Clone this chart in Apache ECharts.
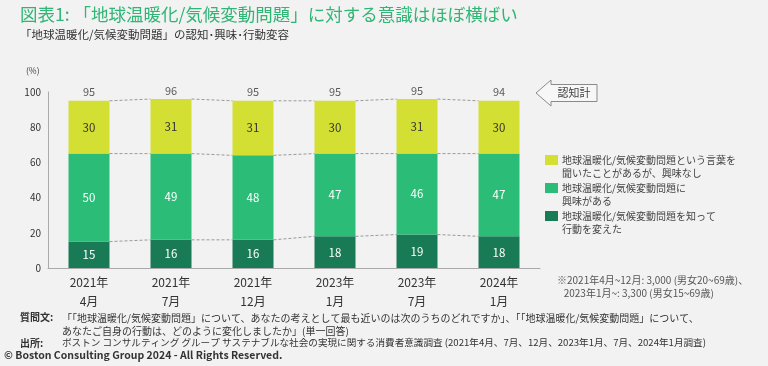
<!DOCTYPE html>
<html><head><meta charset="utf-8">
<script src="https://cdn.jsdelivr.net/npm/echarts@6/dist/echarts.min.js"></script>
<style>html,body{margin:0;padding:0;background:#f2f2f2}#c{width:768px;height:366px}</style>
</head><body><div id="c"></div>
<script>
const categories = ['2021年\n4月','2021年\n7月','2021年\n12月','2023年\n1月','2023年\n7月','2024年\n1月'];
const actedValues = [15,16,16,18,19,18];
const interestedValues = [50,49,48,47,46,47];
const awareValues = [30,31,31,30,31,30];
const totalLabels = [95,96,95,95,95,94];
const yTicks = [0,20,40,60,80,100];
const seriesNames = ['地球温暖化/気候変動問題を知って行動を変えた','地球温暖化/気候変動問題に興味がある','地球温暖化/気候変動問題という言葉を聞いたことがあるが、興味なし'];
const legendLines = [
  ['地球温暖化/気候変動問題という言葉を','聞いたことがあるが、興味なし'],
  ['地球温暖化/気候変動問題に','興味がある'],
  ['地球温暖化/気候変動問題を知って','行動を変えた']
];
const colors = {acted:'#197a56', interested:'#2bbd77', aware:'#d4df33'};
const FONT = '"Noto Sans CJK JP","Noto Sans",sans-serif';

const cum1 = actedValues.slice();
const cum2 = actedValues.map((v,i)=>v+interestedValues[i]);
const cum3 = cum2.map((v,i)=>v+awareValues[i]);
const connData = [];
for (let i=0;i<categories.length-1;i++) connData.push([i,cum1[i],cum1[i+1],cum2[i],cum2[i+1],cum3[i],cum3[i+1]]);

const chart = echarts.init(document.getElementById('c'));
const legendColors = [colors.aware, colors.interested, colors.acted];
const legendTops = [155,183,211];
const legendGraphics = [];
legendLines.forEach((lines,k)=>{
  legendGraphics.push({type:'rect', left:545, top:legendTops[k], shape:{width:13,height:10}, style:{fill:legendColors[k]}});
  legendGraphics.push({type:'text', left:562, top:legendTops[k]-1.5, style:{text:lines.join('\n'), font:'10px '+FONT, fill:'#444', lineHeight:13}});
});

const labelBase = {show:true, fontFamily:FONT, fontSize:11.5};
chart.setOption({
  backgroundColor:'#f2f2f2',
  textStyle:{fontFamily:FONT},
  animation:false,
  grid:{left:48, right:228, top:92, bottom:98},
  xAxis:{type:'category', data:categories,
    axisLine:{lineStyle:{color:'#aaaaaa'}}, axisTick:{show:false},
    axisLabel:{color:'#333', fontSize:12, lineHeight:19, margin:5, fontFamily:FONT}},
  yAxis:{type:'value', min:0, max:100, interval:20,
    axisLine:{show:true, lineStyle:{color:'#aaaaaa'}}, axisTick:{show:false}, splitLine:{show:false},
    axisLabel:{color:'#333', fontSize:10, margin:7, fontFamily:FONT}},
  series:[
    {type:'custom', z:1, silent:true, data:connData, renderItem:function(params, api){
      const hw = api.size([1,0])[0]*0.25;
      const i = api.value(0);
      const children = [];
      for (let k=0;k<3;k++){
        const a = api.coord([i, api.value(1+2*k)]);
        const b = api.coord([i+1, api.value(2+2*k)]);
        children.push({type:'line', shape:{x1:a[0]+hw, y1:a[1], x2:b[0]-hw, y2:b[1]}, style:{stroke:'#9a9a9a', lineWidth:1, lineDash:[3,2]}});
      }
      return {type:'group', children:children};
    }},
    {name:seriesNames[0], type:'bar', stack:'s', barWidth:'50%', z:3, data:actedValues, itemStyle:{color:colors.acted},
      label:Object.assign({}, labelBase, {position:'inside', color:'#fff'})},
    {name:seriesNames[1], type:'bar', stack:'s', barWidth:'50%', z:3, data:interestedValues, itemStyle:{color:colors.interested},
      label:Object.assign({}, labelBase, {position:'inside', color:'#fff'})},
    {name:seriesNames[2], type:'bar', stack:'s', barWidth:'50%', z:3, data:awareValues, itemStyle:{color:colors.aware},
      label:Object.assign({}, labelBase, {position:'inside', color:'#333'})},
    {type:'scatter', symbolSize:0, z:4, silent:true, data:cum3,
      label:Object.assign({}, labelBase, {position:'top', distance:3, color:'#333', fontSize:11,
        formatter:function(p){return totalLabels[p.dataIndex];}})}
  ],
  graphic:[
    {type:'text', left:20, top:6, style:{text:'図表1: 「地球温暖化/気候変動問題」に対する意識はほぼ横ばい', font:'17.5px '+FONT, fill:'#2fb574'}},
    {type:'text', left:20, top:29, style:{text:'「地球温暖化/気候変動問題」の認知･興味･行動変容', font:'11.5px '+FONT, fill:'#333'}},
    {type:'text', left:26, top:67, style:{text:'(%)', font:'8.5px '+FONT, fill:'#444'}},
    {type:'polygon', shape:{points:[[536,93],[551,80],[551,84.5],[597,84.5],[597,101.5],[551,101.5],[551,106]]}, style:{fill:'#f7f7f7', stroke:'#8a8a8a', lineWidth:1}},
    {type:'text', x:574, y:93, style:{text:'認知計', font:'11px '+FONT, fill:'#444', textAlign:'center', textVerticalAlign:'middle'}},
    ...legendGraphics,
    {type:'text', left:557, top:274, style:{text:'※2021年4月~12月: 3,000 (男女20~69歳)、\n   2023年1月~: 3,300 (男女15~69歳)', font:'10px '+FONT, fill:'#555', lineHeight:12.5}},
    {type:'text', left:20, top:312, style:{text:'質問文:', font:'bold 10px '+FONT, fill:'#333'}},
    {type:'text', left:62, top:312, style:{text:'「「地球温暖化/気候変動問題」について、あなたの考えとして最も近いのは次のうちのどれですか」、「「地球温暖化/気候変動問題」について、\nあなたご自身の行動は、どのように変化しましたか」(単一回答)', font:'10px '+FONT, fill:'#333', lineHeight:12.5}},
    {type:'text', left:20, top:338, style:{text:'出所:', font:'bold 10px '+FONT, fill:'#333'}},
    {type:'text', left:62, top:338, style:{text:'ボストン コンサルティング グループ サステナブルな社会の実現に関する消費者意識調査 (2021年4月、7月、12月、2023年1月、7月、2024年1月調査)', font:'9.6px '+FONT, fill:'#333'}},
    {type:'text', left:4, top:350, style:{text:'© Boston Consulting Group 2024 - All Rights Reserved.', font:'bold 10.5px '+FONT, fill:'#333'}}
  ]
});
</script></body></html>
